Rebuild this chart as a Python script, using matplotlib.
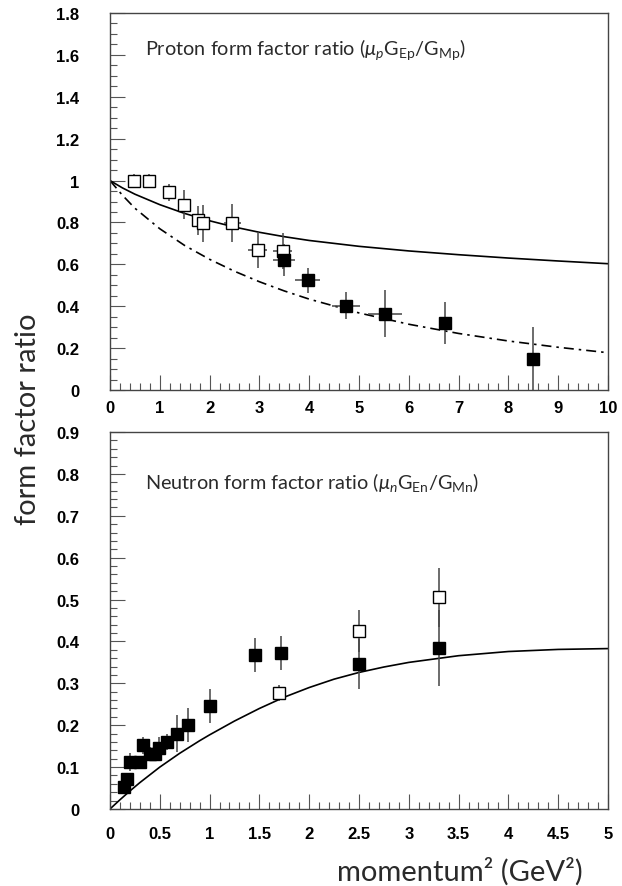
import matplotlib
matplotlib.use('Agg')
import matplotlib.pyplot as plt
from matplotlib.ticker import MultipleLocator

# proton data (open = earlier data, filled = newer data)
p_open_x = [0.48, 0.78, 1.18, 1.48, 1.77, 1.87, 2.46, 2.97, 3.47]
p_open_y = [1.00, 1.00, 0.944, 0.885, 0.81, 0.795, 0.797, 0.669, 0.664]
p_open_ey = [0.03, 0.03, 0.04, 0.07, 0.07, 0.09, 0.09, 0.087, 0.087]
p_open_ex = [0, 0, 0, 0, 0, 0, 0.17, 0.19, 0.19]

p_fill_x = [3.49, 3.97, 4.74, 5.53, 6.72, 8.49]
p_fill_y = [0.62, 0.523, 0.403, 0.365, 0.318, 0.146]
p_fill_ey = [0.075, 0.06, 0.064, 0.114, 0.10, 0.155]
p_fill_ex = [0.22, 0.25, 0.29, 0.34, 0, 0]

# proton model curves
p_curve_x = [0, 0.25, 0.5, 1, 1.5, 2, 2.5, 3, 3.5, 4, 5, 6, 7, 8, 9, 10]
p_solid_y = [1.0, 0.965, 0.935, 0.885, 0.843, 0.808, 0.778, 0.753, 0.732,
             0.714, 0.686, 0.664, 0.646, 0.63, 0.616, 0.603]
p_dash_y = [1.0, 0.93, 0.868, 0.77, 0.69, 0.624, 0.567, 0.517, 0.473, 0.434,
            0.368, 0.314, 0.27, 0.234, 0.204, 0.178]

# neutron data
n_fill_x = [0.14, 0.17, 0.2, 0.3, 0.33, 0.4, 0.45, 0.49, 0.57, 0.67, 0.78, 1.0,
            1.457, 1.717, 2.5, 3.3]
n_fill_y = [0.052, 0.072, 0.112, 0.112, 0.152, 0.132, 0.132, 0.146, 0.16, 0.18,
            0.20, 0.246, 0.368, 0.372, 0.346, 0.384]
n_fill_ey = [0.01, 0.01, 0.022, 0.015, 0.02, 0.015, 0.015, 0.025, 0.02, 0.044,
             0.04, 0.04, 0.04, 0.04, 0.06, 0.09]

n_open_x = [1.70, 2.5, 3.3]
n_open_y = [0.277, 0.426, 0.505]
n_open_ey = [0.02, 0.05, 0.07]

n_curve_x = [0, 0.1, 0.2, 0.3, 0.5, 0.7, 0.9, 1.0, 1.25, 1.5, 1.75, 2.0, 2.25,
             2.5, 2.75, 3.0, 3.5, 4.0, 4.5, 5.0]
n_curve_y = [0, 0.022, 0.043, 0.063, 0.1, 0.133, 0.163, 0.177, 0.21, 0.24,
             0.267, 0.29, 0.31, 0.326, 0.339, 0.35, 0.366, 0.376, 0.381, 0.383]

plt.rcParams['mathtext.fontset'] = 'custom'
plt.rcParams['mathtext.rm'] = 'Lato'
plt.rcParams['mathtext.it'] = 'Lato:italic'

txt = dict(family='Lato', weight='normal', color='#2a2a2a')
tick_font = dict(family='Liberation Sans', weight='bold', size=12)
ebar = '#444444'
ms = 8.5

fig = plt.figure(figsize=(6.22, 8.87), dpi=100)
ax1 = fig.add_axes([0.1768, 0.5592, 0.8006, 0.425])
ax2 = fig.add_axes([0.1768, 0.0868, 0.8006, 0.425])


def style(ax, xmaj, xmin, ymaj, ymin, xpad):
    ax.xaxis.set_major_locator(MultipleLocator(xmaj))
    ax.xaxis.set_minor_locator(MultipleLocator(xmin))
    ax.yaxis.set_major_locator(MultipleLocator(ymaj))
    ax.yaxis.set_minor_locator(MultipleLocator(ymin))
    ax.tick_params(which='both', direction='in', top=False, right=False,
                   color='#555555', width=0.8)
    ax.tick_params(which='major', length=11)
    ax.tick_params(which='minor', length=5)
    ax.tick_params(axis='x', pad=xpad)
    ax.tick_params(axis='y', pad=22)
    for lab in ax.get_xticklabels() + ax.get_yticklabels():
        lab.set_fontproperties(tick_font)
        lab.set_fontsize(12)
    for s in ax.spines.values():
        s.set_color('#444444')
        s.set_linewidth(1.0)


def fmt(v, pos):
    return ('%g' % round(v, 3))


# top panel: proton
ax1.plot(p_curve_x, p_solid_y, color='black', lw=1.2)
ax1.plot(p_curve_x, p_dash_y, color='black', lw=1.2,
         linestyle=(0, (6, 3, 1.5, 3)))
ax1.errorbar(p_open_x, p_open_y, yerr=p_open_ey, xerr=p_open_ex, fmt='s',
             ms=ms, mfc='white', mec='black', mew=1.0, ecolor=ebar,
             elinewidth=1.1, capsize=0)
ax1.errorbar(p_fill_x, p_fill_y, yerr=p_fill_ey, xerr=p_fill_ex, fmt='s',
             ms=ms, mfc='black', mec='black', ecolor=ebar, elinewidth=1.1,
             capsize=0)
ax1.set_xlim(0, 10)
ax1.set_ylim(0, 1.8)
ax1.xaxis.set_major_formatter(fmt)
ax1.yaxis.set_major_formatter(fmt)
style(ax1, 1, 0.2, 0.2, 0.05, 7)
ax1.text(0.07, 0.905, r'Proton form factor ratio ($\mu_{p}\mathrm{G}_{\mathrm{Ep}}/\mathrm{G}_{\mathrm{Mp}}$)',
         transform=ax1.transAxes, fontsize=14.3, va='center', **txt)

# bottom panel: neutron
ax2.plot(n_curve_x, n_curve_y, color='black', lw=1.2)
ax2.errorbar(n_open_x, n_open_y, yerr=n_open_ey, fmt='s', ms=ms,
             mfc='white', mec='black', mew=1.0, ecolor=ebar, elinewidth=1.1,
             capsize=0)
ax2.errorbar(n_fill_x, n_fill_y, yerr=n_fill_ey, fmt='s', ms=ms,
             mfc='black', mec='black', ecolor=ebar, elinewidth=1.1, capsize=0)
ax2.set_xlim(0, 5)
ax2.set_ylim(0, 0.9)
ax2.xaxis.set_major_formatter(fmt)
ax2.yaxis.set_major_formatter(fmt)
style(ax2, 0.5, 0.1, 0.1, 0.02, 12)
ax2.text(0.07, 0.87, r'Neutron form factor ratio ($\mu_{n}\mathrm{G}_{\mathrm{En}}/\mathrm{G}_{\mathrm{Mn}}$)',
         transform=ax2.transAxes, fontsize=14.3, va='center', **txt)

fig.text(0.045, 0.527, 'form factor ratio', rotation=90, ha='center',
         va='center', fontsize=21, **txt)
fig.text(0.937, 0.017, 'momentum² (GeV²)', ha='right', va='center',
         fontsize=21, **txt)

fig.savefig('out.png', dpi=100)
